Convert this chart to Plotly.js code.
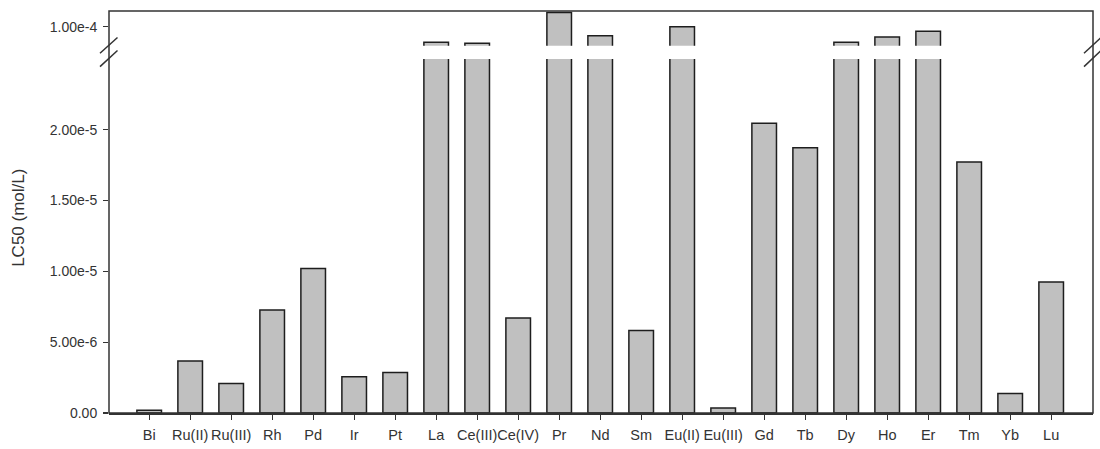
<!DOCTYPE html>
<html>
<head>
<meta charset="utf-8">
<script src="https://cdn.plot.ly/plotly-3.0.1.min.js"></script>
<style>
  html, body { margin: 0; padding: 0; background: #fff; }
  #chart { width: 1100px; height: 449px; }
</style>
</head>
<body>
<div id="chart"></div>
<script>
// Metal complexes tested
const metals = ["Bi", "Ru(II)", "Ru(III)", "Rh", "Pd", "Ir", "Pt", "La", "Ce(III)", "Ce(IV)",
                "Pr", "Nd", "Sm", "Eu(II)", "Eu(III)", "Gd", "Tb", "Dy", "Ho", "Er",
                "Tm", "Yb", "Lu"];

// LC50 values (mol/L)
const lc50 = [2.0e-7, 3.68e-6, 2.08e-6, 7.27e-6, 1.02e-5, 2.56e-6, 2.86e-6, 9.02e-5, 8.95e-5, 6.71e-6,
              1.09e-4, 9.43e-5, 5.82e-6, 1.0e-4, 3.5e-7, 2.046e-5, 1.873e-5, 9.02e-5, 9.35e-5, 9.71e-5,
              1.772e-5, 1.38e-6, 9.25e-6];

// Tick values / labels for the lower and upper (broken) axis segments
const lowerTickVals = [0, 5e-6, 1e-5, 1.5e-5, 2e-5];
const lowerTickText = ["0.00", "5.00e-6", "1.00e-5", "1.50e-5", "2.00e-5"];
const upperTickVals = [1e-4];
const upperTickText = ["1.00e-4"];

const barStyle = {
  color: "#c0c0c0",
  line: { color: "#1e1e1e", width: 1.5 }
};

const traces = [
  { type: "bar", x: metals, y: lc50, width: 0.6, marker: barStyle, xaxis: "x", yaxis: "y",
    hoverinfo: "x+y" },
  { type: "bar", x: metals, y: lc50, width: 0.6, marker: barStyle, xaxis: "x", yaxis: "y2",
    hoverinfo: "x+y" }
];

const fontFamily = "Liberation Sans, Arial, sans-serif";
const xTickFont = { family: fontFamily, size: 14.5, color: "#333" };
const yTickFont = { family: fontFamily, size: 14, color: "#333" };

// pixel -> paper helpers for the break marks (plot area 984 x 402)
const L = 109, T = 11, W = 984, H = 402.3;
const px = v => (v - L) / W;
const py = v => (T + H - v) / H;

function slash(x0, y0, x1, y1) {
  return { type: "line", xref: "paper", yref: "paper",
           x0: px(x0), y0: py(y0), x1: px(x1), y1: py(y1),
           line: { color: "#333", width: 1.5 } };
}

const layout = {
  width: 1100, height: 449,
  margin: { l: 109, r: 7, t: 11, b: 36 },
  paper_bgcolor: "#fff", plot_bgcolor: "#fff",
  showlegend: false,
  xaxis: {
    type: "category",
    range: [-0.98, 23.02],
    showgrid: false, zeroline: false,
    showline: true, linecolor: "#333", linewidth: 1.5,
    ticks: "outside", ticklen: 5, tickcolor: "#333", tickwidth: 1.2,
    tickfont: xTickFont, tickangle: 0, ticklabelstandoff: 3,
    anchor: "y"
  },
  yaxis: {
    domain: [0, 0.8807],
    range: [0, 2.5e-5],
    showgrid: false, zeroline: false, showline: false,
    ticks: "outside", ticklen: 5, tickcolor: "#333", tickwidth: 1.2,
    tickmode: "array", tickvals: lowerTickVals, ticktext: lowerTickText,
    tickfont: yTickFont, ticklabelstandoff: 3,
    anchor: "x"
  },
  yaxis2: {
    domain: [0.9137, 1],
    range: [8.8e-5, 1.1e-4],
    showgrid: false, zeroline: false, showline: false,
    ticks: "outside", ticklen: 5, tickcolor: "#333", tickwidth: 1.2,
    tickmode: "array", tickvals: upperTickVals, ticktext: upperTickText,
    tickfont: yTickFont, ticklabelstandoff: 3,
    anchor: "x"
  },
  shapes: [
    // plot frame
    { type: "rect", xref: "paper", yref: "paper", x0: 0, y0: 0, x1: 1, y1: 1,
      line: { color: "#333", width: 1.5 }, layer: "above" },
    // axis break marks, left
    slash(100, 53.3, 117.5, 37.5),
    slash(100, 66.7, 117.5, 50.5),
    // axis break marks, right
    slash(1084, 53.3, 1101, 37.5),
    slash(1084, 66.7, 1101, 50.5)
  ],
  annotations: [
    { text: "LC50 (mol/L)", xref: "paper", yref: "paper",
      x: px(19), y: py(218), textangle: -90, showarrow: false,
      xanchor: "center", yanchor: "middle",
      font: { family: fontFamily, size: 17, color: "#333" } }
  ]
};

Plotly.newPlot("chart", traces, layout, { displayModeBar: false, staticPlot: true });
</script>
</body>
</html>
